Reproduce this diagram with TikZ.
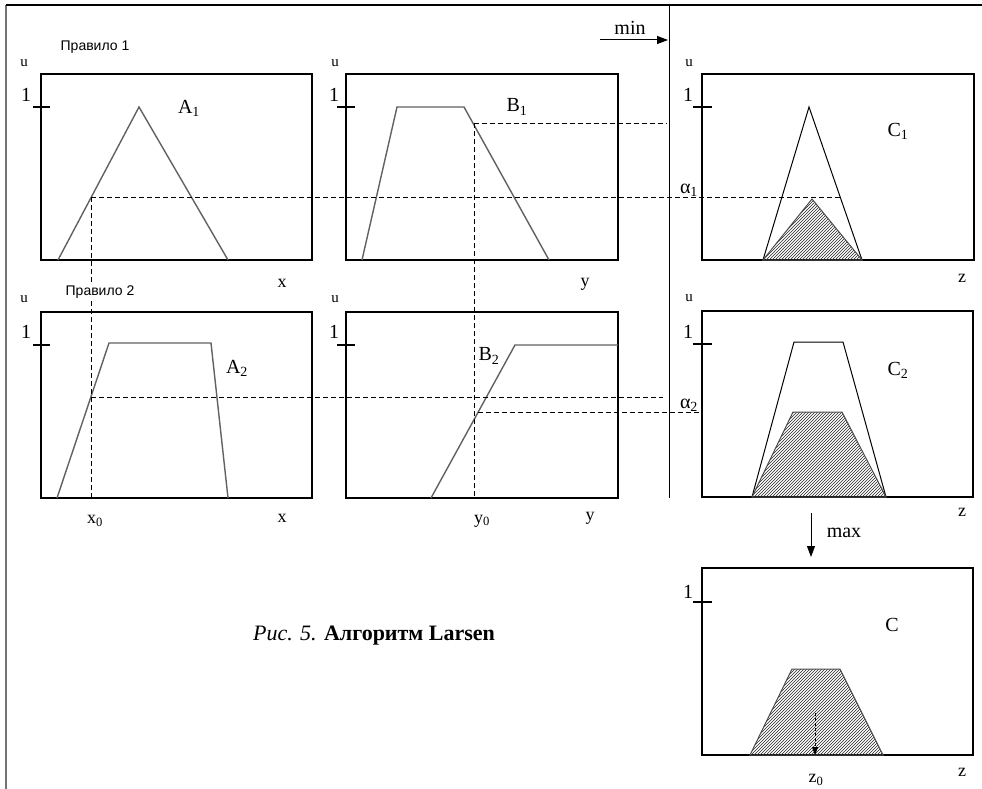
\documentclass[tikz,border=0pt]{standalone}
\usepackage{fontspec}
\setmainfont{Liberation Serif}
\newfontfamily\rulefont{Liberation Sans}
\usetikzlibrary{patterns,arrows.meta}
\tikzset{
  frame/.style={draw=black, line width=1.1pt},
  mf/.style={draw=black!62, line width=1.4pt},
  cut/.style={black, line width=0.9pt, dash pattern=on 5pt off 3pt},
  hatch/.style={draw=black!70, line width=1pt, pattern=north east lines, pattern color=black!85},
  lbl/.style={font=\fontsize{20}{22}\selectfont, inner sep=0pt},
  ax/.style={font=\fontsize{18}{20}\selectfont, inner sep=0pt},
  mu/.style={font=\fontsize{15}{17}\selectfont, inner sep=0pt},
  rul/.style={font=\rulefont\fontsize{14}{16}\selectfont, inner sep=1pt, fill=white},
  bigtip/.style={-{Triangle[length=11pt,width=8pt]}},
}
\begin{document}
\begin{tikzpicture}[x=1pt,y=-1pt]
    \useasboundingbox (0,0) rectangle (982,789);

    % 外框和分隔线
    \draw[black!55, line width=1.6pt] (6,789) -- (6,5);
    \draw[line width=1.2pt] (6,5) -- (982,5);
    \draw[line width=1pt] (669,5) -- (669,498);

    % 规则1：A1, B1, C1 的方框和刻度
    \draw[frame] (41,74) rectangle (312,260) (33,107) -- (50,107);
    \draw[frame] (346,74) rectangle (618,260) (337,107) -- (355,107);
    \draw[frame] (702,74) rectangle (974,260) (693,107) -- (712,107);
    \node[mu] (uA1) at (24,63) {u};
    \node[mu] (uB1) at (335,63) {u};
    \node[mu] (uC1) at (689,63) {u};
    \node[lbl] (oneA1) at (26,95) {1};
    \node[lbl] (oneB1) at (334,95) {1};
    \node[lbl] (oneC1) at (688,95) {1};

    % 规则2：A2, B2, C2 的方框和刻度
    \draw[frame] (41,312) rectangle (312,498) (33,345) -- (50,345);
    \draw[frame] (346,312) rectangle (618,498) (337,345) -- (355,345);
    \draw[frame] (702,311) rectangle (973,497) (693,344) -- (712,344);
    \node[mu] (uA2) at (24,299) {u};
    \node[mu] (uB2) at (335,299) {u};
    \node[mu] (uC2) at (689,298) {u};
    \node[lbl] (oneA2) at (26,332) {1};
    \node[lbl] (oneB2) at (334,332) {1};
    \node[lbl] (oneC2) at (688,332) {1};

    % 结果 C 的方框
    \draw[frame] (702,568) rectangle (973,755) (693,602) -- (712,602);
    \node[lbl] (oneC) at (688,592) {1};

    % 隶属函数曲线
    \draw[mf] (58,260) -- (139,107) -- (228,260);
    \draw[mf] (362,260) -- (397,107) -- (464,107) -- (549,260);
    \draw[mf] (57,498) -- (109,343) -- (211,343) -- (228,498);
    \draw[mf] (431,498) -- (515,345) -- (618,345);
    \draw[frame, line width=1pt] (763,260) -- (809,107) -- (862,260);
    \draw[frame, line width=1pt] (752,497) -- (794,342) -- (843,342) -- (886,497);

    % 截取后的阴影部分
    \draw[hatch] (763,260) -- (812,199) -- (862,260) -- cycle;
    \draw[hatch] (752,497) -- (793,412) -- (842,412) -- (886,497) -- cycle;
    \draw[hatch] (750,755) -- (792,669) -- (840,669) -- (883,755) -- cycle;

    % 输入 x0, y0 的虚线
    \coordinate (ax0) at (91,197);
    \coordinate (bx0) at (91,498);
    \coordinate (ay0) at (474,123);
    \coordinate (by0) at (474,498);
    \draw[cut] (ax0) -- (bx0);
    \draw[cut] (ay0) -- (by0);
    \draw[cut] (ax0) -- (840,197);
    \draw[cut] (ay0) -- (667,123);
    \draw[cut] (91,397) -- (663,397);
    \draw[cut] (478,412) -- (702,412);

    % 规则标题
    \node[rul] (rule1) at (95,47) {Правило 1};
    \node[rul] (rule2) at (100,292) {Правило 2};

    % 曲线名称
    \node[lbl] (nA1) at (189,108) {A\textsubscript{1}};
    \node[lbl] (nB1) at (517,107) {B\textsubscript{1}};
    \node[lbl] (nC1) at (898,131) {C\textsubscript{1}};
    \node[lbl] (nA2) at (237,368) {A\textsubscript{2}};
    \node[lbl] (nB2) at (489,356) {B\textsubscript{2}};
    \node[lbl] (nC2) at (898,370) {C\textsubscript{2}};
    \node[lbl] (nC) at (892,625) {C};
    \node[lbl] (al1) at (689,190) {α\textsubscript{1}};
    \node[lbl] (al2) at (689,405) {α\textsubscript{2}};

    % 坐标轴名称
    \node[ax] (xa) at (282,283) {x};
    \node[ax] (ya) at (585,284) {y};
    \node[ax] (za) at (962,278) {z};
    \node[ax] (xb) at (282,518) {x};
    \node[ax] (yb) at (590,518) {y};
    \node[ax] (zb) at (962,512) {z};
    \node[ax] (zc) at (962,772) {z};
    \node[ax] (x0) at (95,521) {x\textsubscript{0}};
    \node[ax] (y0) at (482,521) {y\textsubscript{0}};
    \node[ax] (z0) at (816,780) {z\textsubscript{0}};

    % min 和 max 箭头
    \coordinate (minS) at (600,40);
    \coordinate (minE) at (668,40);
    \draw[line width=1pt, bigtip] (minS) -- (minE);
    \node[lbl] (minl) at (630,28) {min};
    \coordinate (maxS) at (811,513);
    \coordinate (maxE) at (811,557);
    \draw[line width=1pt, bigtip] (maxS) -- (maxE);
    \node[lbl] (maxl) at (844,533) {max};

    % 重心 z0
    \coordinate (cgS) at (815,713);
    \coordinate (cgE) at (815,755);
    \draw[line width=0.8pt, densely dashed, -{Triangle[length=8pt,width=6pt]}] (cgS) -- (cgE);

    % 图题
    \node[anchor=west, inner sep=0pt, font=\fontsize{22}{24}\selectfont] (cap) at (253,636)
        {\textit{Рис. 5.} \textbf{Алгоритм Larsen}};
\end{tikzpicture}
\end{document}
